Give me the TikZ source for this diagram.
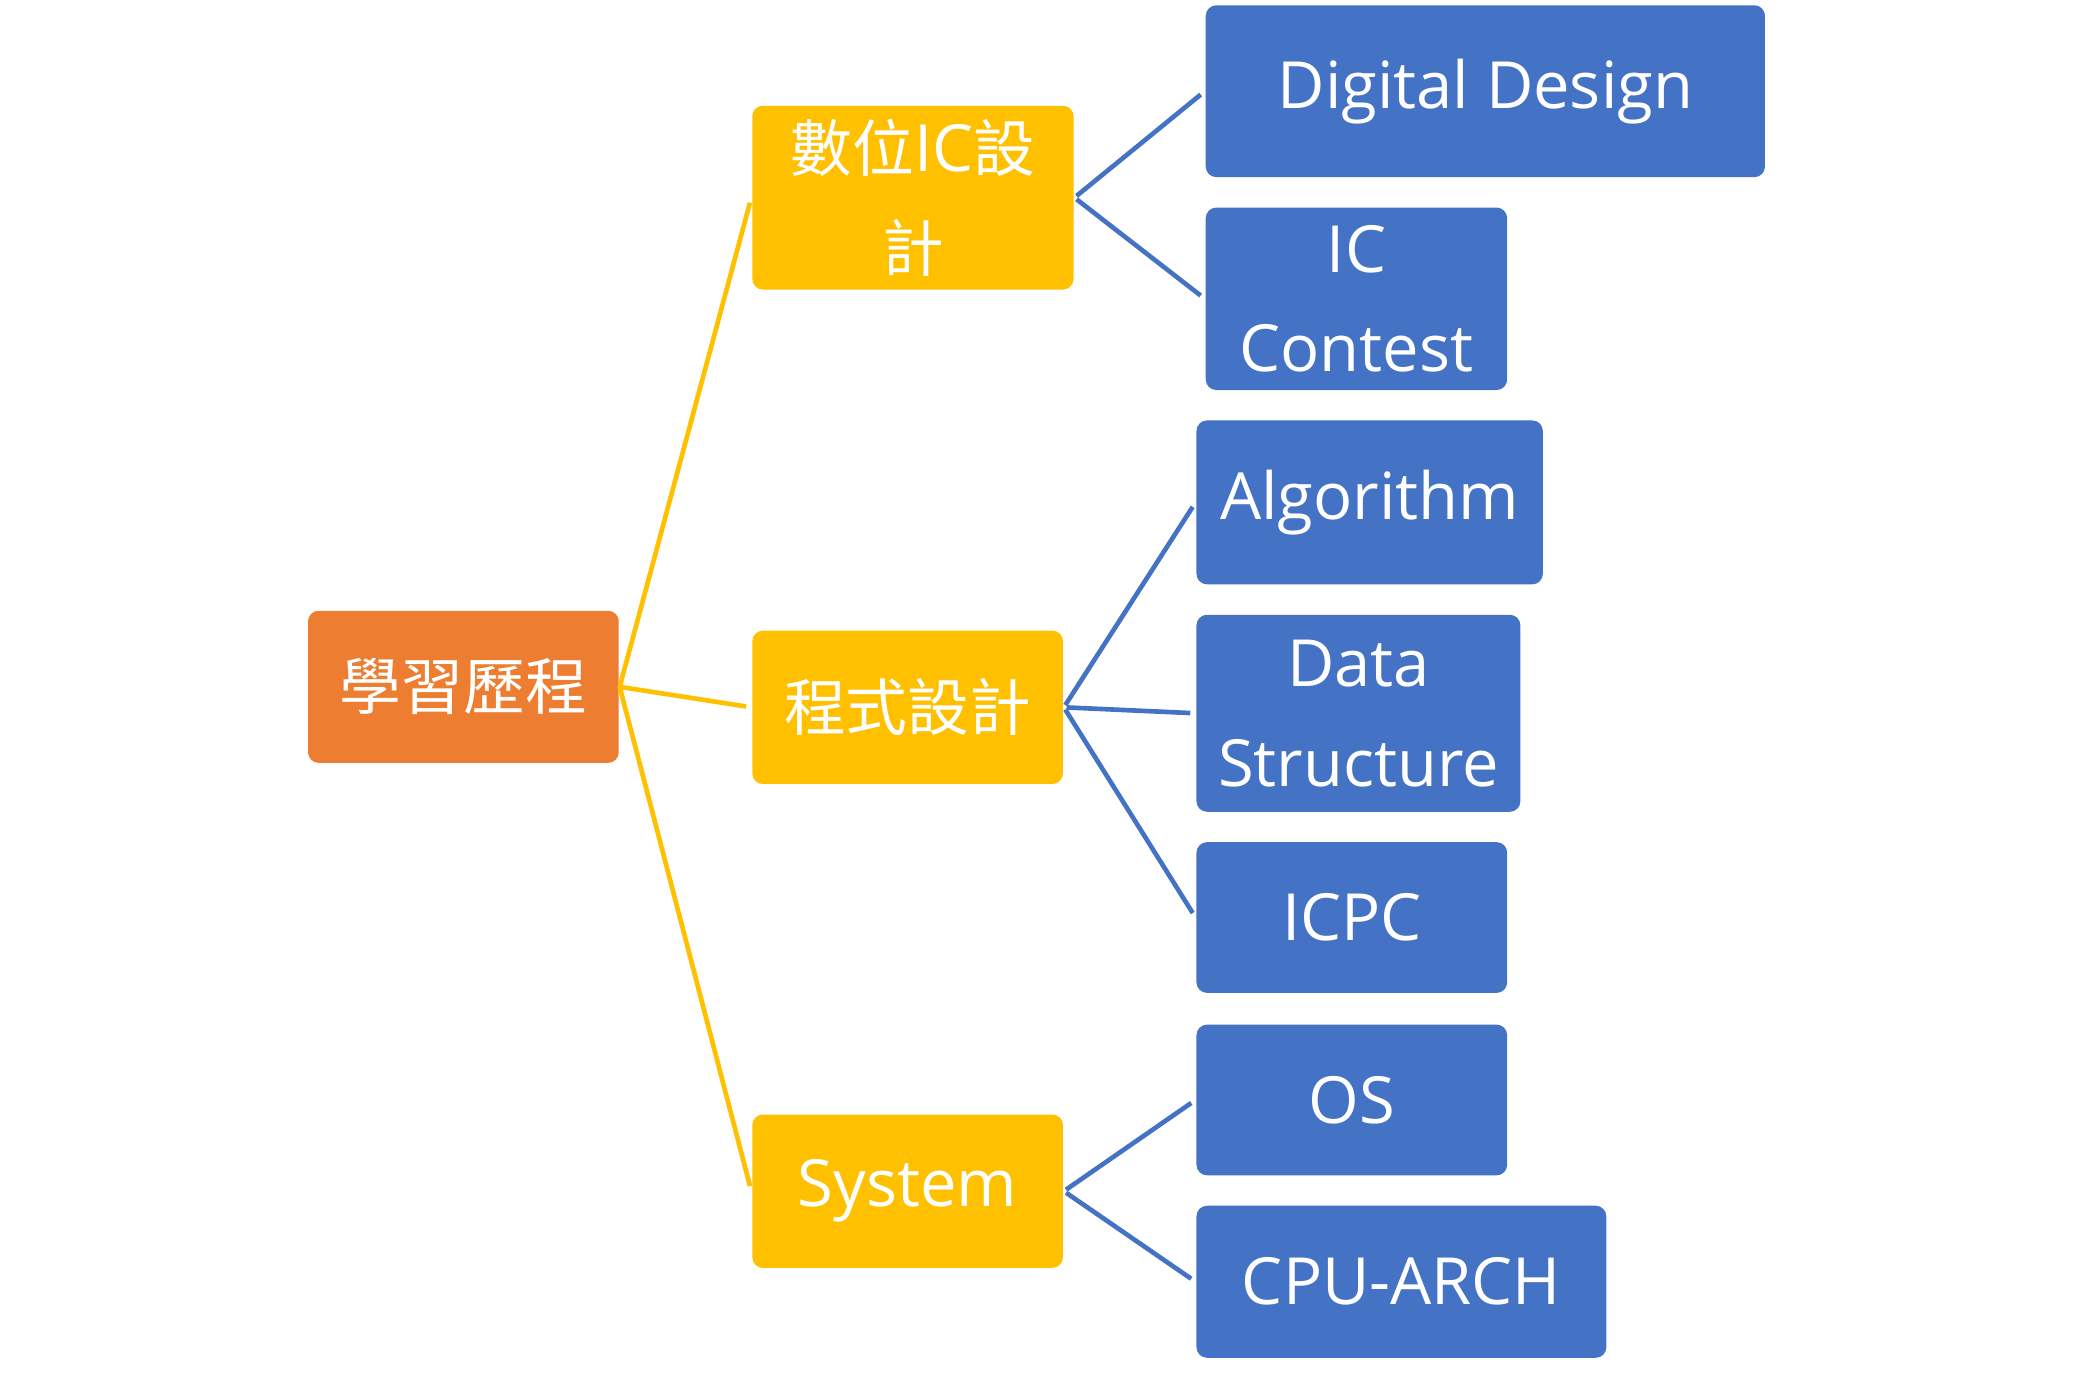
\documentclass[tikz,border=0pt]{standalone}
\usepackage{fontspec}
\usepackage{xcolor}
\usepackage{tikz}
\setmainfont{Open Sans}
\newfontfamily\cjk[Scale=0.95]{Noto Sans CJK TC}

\definecolor{rootorange}{HTML}{ED7D31}
\definecolor{topicyellow}{HTML}{FFC000}
\definecolor{itemblue}{HTML}{4472C4}

\tikzset{
  box/.style={rounded corners=0.08cm, text=white, inner sep=0pt, align=center,
    font=\fontsize{14}{21.5}\selectfont},
  rootbox/.style={box, fill=rootorange},
  topicbox/.style={box, fill=topicyellow},
  itembox/.style={box, fill=itemblue},
  yline/.style={draw=topicyellow, line width=1pt, shorten >=0.04cm},
  bline/.style={draw=itemblue, line width=1pt, shorten >=0.04cm, shorten <=0.02cm},
}

\begin{document}
\begin{tikzpicture}
        \useasboundingbox (0,0) rectangle (15.68,-10.51);

        % Root
        \node[rootbox, minimum width=2.35cm, minimum height=1.15cm] (root) at (3.505,-5.195) {{\cjk 學習歷程}};

        % Topics
        \node[topicbox, minimum width=2.43cm, minimum height=1.39cm] (ic) at (6.905,-1.495) {{\cjk 數位}IC{\cjk 設}\\{\cjk 計}};
        \node[topicbox, minimum width=2.35cm, minimum height=1.16cm] (prog) at (6.865,-5.35) {{\cjk 程式設計}};
        \node[topicbox, minimum width=2.35cm, minimum height=1.16cm] (sys) at (6.865,-9.01) {System};

        % Items
        \node[itembox, minimum width=4.23cm, minimum height=1.30cm] (dd) at (11.235,-0.69) {Digital Design};
        \node[itembox, minimum width=2.28cm, minimum height=1.38cm] (icc) at (10.26,-2.26) {IC\\Contest};
        \node[itembox, minimum width=2.62cm, minimum height=1.24cm] (alg) at (10.36,-3.80) {Algorithm};
        \node[itembox, minimum width=2.45cm, minimum height=1.49cm] (ds) at (10.275,-5.395) {Data\\Structure};
        \node[itembox, minimum width=2.35cm, minimum height=1.14cm] (icpc) at (10.225,-6.94) {ICPC};
        \node[itembox, minimum width=2.35cm, minimum height=1.14cm] (os) at (10.225,-8.32) {OS};
        \node[itembox, minimum width=3.10cm, minimum height=1.15cm] (cpu) at (10.60,-9.695) {CPU-ARCH};

        % Root to topics
        \draw[yline] (root.east) -- (ic.west);
        \draw[yline] (root.east) -- (prog.west);
        \draw[yline] (root.east) -- (sys.west);

        % Topics to items
        \draw[bline] (ic.east) -- (dd.west);
        \draw[bline] (ic.east) -- (icc.west);
        \draw[bline] (prog.east) -- (alg.west);
        \draw[bline] (prog.east) -- (ds.west);
        \draw[bline] (prog.east) -- (icpc.west);
        \draw[bline] (sys.east) -- (os.west);
        \draw[bline] (sys.east) -- (cpu.west);

\end{tikzpicture}
\end{document}
